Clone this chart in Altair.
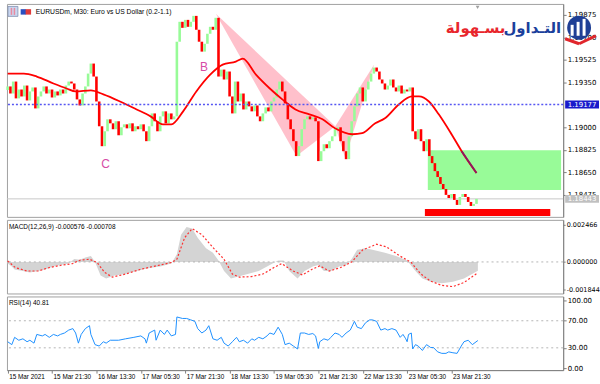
import altair as alt
import pandas as pd

# ---------------- data ----------------
# M30 candles, closes read at every second bar (bar index 0..338)
candle_bar = list(range(0, 340, 2))
first_open = 1.19290
close = [
    1.19318, 1.19263, 1.19356, 1.19225, 1.19294, 1.19240, 1.19325, 1.19209, 1.19279, 1.19310,
    1.19147, 1.19240, 1.19279, 1.19318, 1.19263, 1.19294, 1.19232, 1.19279, 1.19248, 1.19294,
    1.19263, 1.19325, 1.19356, 1.19341, 1.19294, 1.19217, 1.19170, 1.19263, 1.19318, 1.19418,
    1.19496, 1.19395, 1.19201, 1.19008, 1.18853, 1.18969, 1.19062, 1.19031, 1.18985, 1.19047,
    1.18938, 1.19000, 1.19023, 1.18992, 1.19031, 1.18969, 1.19008, 1.18985, 1.19023, 1.18969,
    1.18892, 1.19008, 1.19108, 1.19047, 1.18969, 1.19085, 1.19124, 1.19031, 1.19108, 1.19062,
    1.19085, 1.19666, 1.19821, 1.19774, 1.19836, 1.19782, 1.19821, 1.19867, 1.19759, 1.19666,
    1.19589, 1.19650, 1.19728, 1.19782, 1.19759, 1.19852, 1.19395, 1.19449, 1.19372, 1.19434,
    1.19240, 1.19108, 1.19356, 1.19201, 1.19263, 1.19139, 1.19201, 1.19163, 1.19124, 1.19170,
    1.19085, 1.19047, 1.19108, 1.19155, 1.19124, 1.19201, 1.19232, 1.19294, 1.19356, 1.19279,
    1.19186, 1.19062, 1.18985, 1.18892, 1.18776, 1.18853, 1.18985, 1.19062, 1.19085, 1.19062,
    1.19077, 1.19047, 1.18737, 1.18814, 1.18868, 1.18837, 1.18892, 1.18930, 1.18985, 1.19000,
    1.18892, 1.18814, 1.18752, 1.18930, 1.19047, 1.19163, 1.19263, 1.19310, 1.19201, 1.19294,
    1.19356, 1.19418, 1.19465, 1.19434, 1.19372, 1.19341, 1.19294, 1.19325, 1.19372, 1.19310,
    1.19279, 1.19325, 1.19263, 1.19294, 1.19279, 1.19310, 1.18969, 1.18907, 1.18985, 1.18892,
    1.18814, 1.18907, 1.18776, 1.18721, 1.18659, 1.18613, 1.18559, 1.18520, 1.18474, 1.18450,
    1.18481, 1.18435, 1.18396, 1.18458, 1.18481, 1.18458, 1.18419, 1.18388, 1.18404, 1.18443,
]

ma_bar = [0, 11.7, 21, 33, 42.5, 49, 60, 69, 81, 93, 103, 112, 118, 126.5, 136, 146, 155,
          164.5, 169.5, 179, 189, 198, 207.5, 217.5, 227, 236, 248.5, 255.6, 265, 272, 282,
          291.5, 296.5, 303.7, 310.8, 320, 327.3, 338]
ma_value = [1.19418, 1.19418, 1.19395, 1.19341, 1.19302, 1.19279, 1.19287, 1.19256, 1.19201,
            1.19139, 1.19085, 1.19023, 1.19023, 1.19124, 1.19279, 1.19410, 1.19488, 1.19511,
            1.19534, 1.19410, 1.19302, 1.19217, 1.19139, 1.19101, 1.19062, 1.18992, 1.18946,
            1.18954, 1.19031, 1.19070, 1.19178, 1.19240, 1.19240, 1.19201, 1.19101, 1.18946,
            1.18814, 1.18644]

macd_bar = [0, 3, 5, 11, 16, 22, 27, 33, 38, 44, 48, 52, 56, 60, 63, 67, 71, 77, 85, 93,
            102, 110, 118, 122, 125, 129, 133, 137, 143, 148, 152, 156, 161, 165, 173, 181,
            189, 195, 199, 203, 209, 214, 220, 224, 228, 233, 239, 244, 248, 252, 258, 263,
            272, 280, 288, 294, 299, 305, 313, 321, 329, 339]
macd_value = [-0.0001, -0.0003, -0.0005, -0.0006, -0.0007, -0.0006, -0.0005, -0.0003, -0.0002,
              -0.0001, 0.0002, 0.00015, 0.0003, 0.0004, 0.0, -0.0009, -0.0011, -0.0009, -0.0008,
              -0.0006, -0.0004, -0.0003, -0.0001, 0.0005, 0.0018, 0.0023, 0.0022, 0.0016, 0.0009,
              0.0006, 0.0001, -0.0006, -0.0011, -0.0010, -0.0008, -0.0006, -0.0002, 0.0001,
              0.0001, -0.0006, -0.0011, -0.0006, -0.0003, -0.0002, -0.0006, -0.0006, -0.0003,
              -0.0002, 0.0002, 0.0008, 0.0009, 0.0008, 0.0006, 0.0004, 0.0001, -0.0006, -0.0011,
              -0.0013, -0.0014, -0.0013, -0.0011, -0.000576]
signal_bar = [0, 5.5, 14, 22, 30, 38.5, 46.7, 52, 59, 64.5, 70, 75.5, 85, 96, 107, 118, 122,
              127.6, 133, 140, 148, 156, 162, 167, 175.6, 184, 192, 197.5, 205.8, 212.6, 219.5,
              225, 231.8, 240, 248, 256, 266, 273, 282.6, 291, 297.6, 304.5, 312.7, 321, 329, 339]
signal_value = [0.00007, -0.00037, -0.0006, -0.0006, -0.00037, -0.00022, -0.00011, 0.00011,
                0.00018, -0.00004, -0.0007, -0.001, -0.0008, -0.00048, -0.00026, -0.00004,
                0.00018, 0.0016, 0.0022, 0.0018, 0.00095, 0.00018, -0.0008, -0.001, -0.00097,
                -0.0008, -0.00037, -0.00011, -0.0006, -0.00086, -0.00048, -0.00026, -0.0006,
                -0.00037, 0.0, 0.0008, 0.00117, 0.001, 0.0004, -0.00004, -0.00077, -0.00125,
                -0.00154, -0.00163, -0.00136, -0.000708]

rsi_bar = [0, 3, 5, 8, 11, 14, 16, 19, 21, 25, 27, 30, 33, 36, 38, 41, 44, 47, 49, 51, 53, 56,
           59, 60, 63, 66, 69, 71, 74, 80, 85, 91, 96, 99, 100, 102, 106, 107, 110, 113, 115,
           118, 121, 122, 126, 129, 132, 135, 137, 140, 143, 145, 148, 151, 154, 156, 159, 162,
           165, 167, 170, 173, 176, 178, 181, 184, 187, 189, 192, 195, 198, 200, 203, 206, 209,
           211, 214, 217, 220, 222, 224, 225, 228, 231, 233, 236, 239, 241, 244, 247, 250, 252,
           255, 258, 261, 263, 266, 269, 272, 274, 277, 280, 283, 285, 287, 288, 289, 291, 292,
           294, 296, 299, 302, 305, 307, 310, 313, 316, 318, 321, 324, 327, 329, 332, 335, 339]
rsi_value = [39.0, 34.7, 45.5, 41.2, 43.3, 39.0, 41.2, 36.9, 49.8, 47.6, 49.8, 45.5, 49.8, 47.6,
             49.8, 51.9, 56.2, 58.4, 51.9, 36.9, 49.8, 58.4, 62.7, 49.8, 34.7, 32.6, 39.0, 36.9,
             41.2, 41.2, 43.3, 45.5, 47.6, 43.3, 36.9, 51.9, 56.2, 41.2, 56.2, 49.8, 56.2, 47.6,
             49.8, 75.6, 73.4, 73.4, 71.3, 69.1, 58.4, 51.9, 56.2, 62.7, 43.3, 41.2, 45.5, 36.9,
             32.6, 39.0, 45.5, 39.0, 41.2, 36.9, 43.3, 41.2, 45.5, 43.3, 47.6, 51.9, 49.8, 60.5,
             49.8, 34.7, 36.9, 32.6, 28.3, 51.9, 51.9, 49.8, 51.1, 47.6, 29.1, 39.0, 43.3, 41.2,
             45.5, 51.9, 49.8, 45.5, 51.9, 56.2, 69.1, 60.5, 58.4, 67.0, 71.3, 71.3, 69.1, 56.2,
             58.4, 56.2, 58.4, 56.2, 45.5, 49.8, 43.3, 39.0, 49.8, 51.9, 28.3, 34.7, 32.6, 26.1,
             34.7, 30.4, 30.4, 24.0, 21.8, 21.8, 24.0, 22.7, 21.8, 32.6, 39.0, 41.2, 34.7, 40.81]

time_tick_bar = [0, 32, 64, 96, 128, 160, 192, 224, 256, 288, 320]
time_tick_label = ["15 Mar 2021", "15 Mar 21:30", "16 Mar 13:30", "17 Mar 05:30",
                   "17 Mar 21:30", "18 Mar 13:30", "19 Mar 05:30", "21 Mar 21:30",
                   "22 Mar 13:30", "23 Mar 05:30", "23 Mar 21:30"]

price_tick = [1.19875, 1.19700, 1.19525, 1.19350, 1.19000, 1.18825, 1.18650, 1.18475]
macd_tick = [0.002466, 0.0, -0.001844]
rsi_tick = [100, 70, 30, 0]
rsi_levels = [70, 30]

level_price = 1.19177
bid_price = 1.18443

green_box = [302.9, 399.0, 1.18512, 1.18822]
red_box = [300.8, 391.2, 1.18310, 1.18365]
tri_xab = [(150.1, 1.19883), (208.2, 1.18776), (236.2, 1.19008)]
tri_bcd = [(236.2, 1.19008), (243.4, 1.18760), (264.2, 1.19488)]

point_label = ["B", "C"]
point_label_bar = [141.5, 70.5]
point_label_price = [1.19472, 1.18714]

title_main = "EURUSDm, M30:  Euro vs US Dollar (0.2-1.1)"
title_macd = "MACD(12,26,9) -0.000576 -0.000708"
title_rsi = "RSI(14) 40.81"
logo_blue = "التـداول"
logo_red = "بسـهولة"

# ---------------- frames ----------------
opens = [first_open] + close[:-1]
candles = pd.DataFrame({"x": candle_bar, "o": opens, "c": close})


def candle_kind(r):
    kind = "up" if r.c >= r.o else "down"
    inside = (green_box[0] <= r.x <= green_box[1] and max(r.o, r.c) >= green_box[2]
              and min(r.o, r.c) <= green_box[3])
    return kind + ("_g" if inside else "")


candles["d"] = candles.apply(candle_kind, axis=1)

ma = pd.DataFrame({"x": ma_bar, "y": ma_value})
ma_in_green = ma[ma["y"] <= green_box[3]]


def tri_rows(v, name):
    (xa, ya), (xb, yb), (xc, yc) = sorted(v)
    yl = ya + (yc - ya) * (xb - xa) / (xc - xa)
    return [dict(t=name, x=xa, y=ya, y2=ya), dict(t=name, x=xb, y=yb, y2=yl),
            dict(t=name, x=xc, y=yc, y2=yc)]


tris = pd.DataFrame(tri_rows(tri_xab, "t1") + tri_rows(tri_bcd, "t2"))
boxes = pd.DataFrame([
    dict(x=green_box[0], x2=green_box[1], y=green_box[2], y2=green_box[3], k="g"),
    dict(x=red_box[0], x2=red_box[1], y=red_box[2], y2=red_box[3], k="r"),
])
labels_df = pd.DataFrame({"x": point_label_bar, "y": point_label_price, "t": point_label})
macd_df = pd.DataFrame({"x": macd_bar, "v": macd_value, "z": [0.0] * len(macd_bar)})
signal_df = pd.DataFrame({"x": signal_bar, "v": signal_value})
rsi_df = pd.DataFrame({"x": rsi_bar, "v": rsi_value})

# ---------------- scales / axes ----------------
W = 559
XS = alt.Scale(domain=[-0.5, 400.5], nice=False, zero=False)
PS = alt.Scale(domain=[1.18303, 1.19960], nice=False, zero=False)
MS = alt.Scale(domain=[-0.002083, 0.002779], nice=False, zero=False)
RS = alt.Scale(domain=[-2.94, 105.9], nice=False, zero=False)

ax_common = dict(title=None, grid=False, labelColor="#000000", domainColor="#808080",
                 tickColor="#808080", labelOverlap=False, labelFlush=False)
price_axis = alt.Axis(orient="right", values=price_tick, format=".5f", tickSize=3,
                      labelPadding=1, labelFont="DejaVu Sans", labelFontSize=7, **ax_common)
macd_axis = alt.Axis(orient="right", values=macd_tick, tickSize=2, labelPadding=1,
                     labelExpr="replace(format(datum.value, '.6f'), '\u2212', '-')",
                     labelFont="DejaVu Sans", labelFontSize=6.5, **ax_common)
rsi_axis = alt.Axis(orient="right", values=rsi_tick, format=".2f", tickSize=3, labelPadding=1,
                    labelFont="DejaVu Sans", labelFontSize=7, **ax_common)
time_expr = "[" + ",".join("'%s'" % s for s in time_tick_label) + "][round(datum.value / 32)]"
time_axis = alt.Axis(orient="bottom", values=time_tick_bar, labelExpr=time_expr, tickSize=3,
                     labelAlign="left", labelPadding=0, labelOffset=1,
                     labelFont="Liberation Sans", labelFontSize=6.4, **ax_common)


def X(f="x", axis=None):
    return alt.X(f"{f}:Q", scale=XS, axis=axis)


def PY(f="y"):
    return alt.Y(f"{f}:Q", scale=PS, axis=price_axis)


def MY(f="v"):
    return alt.Y(f"{f}:Q", scale=MS, axis=macd_axis)


def RY(f="v"):
    return alt.Y(f"{f}:Q", scale=RS, axis=rsi_axis)


_deco_id = [0]


def one_row():
    _deco_id[0] += 1
    return pd.DataFrame({"k": [_deco_id[0]]})


def deco_rule(x1, y1, x2, y2, color, width):
    return alt.Chart(one_row()).mark_rule(color=color, strokeWidth=width).encode(
        x=alt.value(x1), y=alt.value(y1), x2=alt.value(x2), y2=alt.value(y2))


def deco_text(x, y, text, **kw):
    return alt.Chart(one_row()).mark_text(**kw).encode(x=alt.value(x), y=alt.value(y),
                                                       text=alt.value(text))


def deco_point(x, y, **kw):
    return alt.Chart(one_row()).mark_point(filled=True, opacity=1, **kw).encode(
        x=alt.value(x), y=alt.value(y))


box_path = "M-1,-0.235L1,-0.235L1,0.235L-1,0.235Z"

# ---------------- main panel ----------------
zones = alt.Chart(boxes).mark_rect().encode(
    x=X(), x2="x2:Q", y=PY(), y2="y2:Q",
    color=alt.Color("k:N", scale=alt.Scale(domain=["g", "r"], range=["#98fb98", "#ff0000"]),
                    legend=None))
tri_layer = alt.Chart(tris).mark_area(color="#ffc0cb", orient="vertical", opacity=1).encode(
    x=X(), y=PY("y"), y2="y2:Q", detail="t:N")
bid_line = alt.Chart(pd.DataFrame({"y": [bid_price]})).mark_rule(
    color="#c8c8c8", strokeWidth=1).encode(y=PY())
candle_layer = alt.Chart(candles).mark_rule(strokeWidth=2.6).encode(
    x=X(), y=PY("o"), y2="c:Q",
    color=alt.Color("d:N", scale=alt.Scale(domain=["up", "down", "up_g", "down_g"],
                                           range=["#8ee58e", "#f27d7d", "#6f9f74", "#9a6f80"]),
                    legend=None))
ma_line = alt.Chart(ma).mark_line(color="#ff0000", strokeWidth=1.8, interpolate="monotone").encode(
    x=X(), y=PY())
ma_purple = alt.Chart(ma_in_green).mark_line(color="#8b1a62", strokeWidth=1.8,
                                              interpolate="monotone").encode(x=X(), y=PY())
level_line = alt.Chart(pd.DataFrame({"y": [level_price]})).mark_rule(
    color="#5656f2", strokeDash=[2, 2], strokeWidth=1.4).encode(y=PY())
letters = alt.Chart(labels_df).mark_text(color="#d64ba6", fontSize=12, font="Liberation Sans").encode(
    x=X(), y=PY(), text="t:N")
level_box = alt.Chart(pd.DataFrame({"y": [level_price], "t": ["1.19177"]})).mark_point(
    shape=box_path, size=1156, filled=True, opacity=1, color="#1a1acb").encode(
    x=alt.value(578), y=PY())
level_txt = alt.Chart(pd.DataFrame({"y": [level_price], "t": ["1.19177"]})).mark_text(
    color="white", fontSize=7, font="DejaVu Sans").encode(x=alt.value(578), y=PY(), text="t:N")
bid_box = alt.Chart(pd.DataFrame({"y": [bid_price], "t": ["1.18443"]})).mark_point(
    shape=box_path, size=1156, filled=True, opacity=1, color="#c0c0c0").encode(
    x=alt.value(578), y=PY())
bid_txt = alt.Chart(pd.DataFrame({"y": [bid_price], "t": ["1.18443"]})).mark_text(
    color="white", fontSize=7, font="DejaVu Sans").encode(x=alt.value(578), y=PY(), text="t:N")

title_txt = deco_text(29, 8, title_main, align="left", baseline="middle", font="Liberation Sans",
                      fontSize=6.8, color="#000000")
icon1 = deco_point(6, 7.5, shape="square", size=100, color="#c9d6ef", stroke="#7f8fb0",
                   strokeWidth=0.8)
icon1b = deco_rule(4.5, 4, 4.5, 11, "#e88aa0", 1.5)
icon1c = deco_rule(7.5, 4, 7.5, 11, "#e88aa0", 1.5)
icon2a = deco_point(16.5, 8, shape="square", size=30, color="#2a4fc0")
icon2b = deco_point(21.5, 8, shape="square", size=30, color="#e03a3a")
shift_mark = deco_point(473, 3.5, shape="triangle-down", size=14, color="#a0a0a0")

logo_circle = deco_point(575, 24, shape="circle", size=576, color="#1f3f95")
logo_bars = [deco_rule(568, 21, 568, 32, "#ffffff", 3), deco_rule(574, 18, 574, 32, "#ffffff", 3),
             deco_rule(580, 15, 580, 32, "#ffffff", 3)]
logo_red_mark = [deco_rule(561, 35, 575, 40, "#e0262c", 3),
                 deco_rule(575, 40, 592, 32, "#e0262c", 3)]
logo_b = deco_text(557, 29, logo_blue, align="right", baseline="alphabetic", font="DejaVu Sans",
                   fontSize=15, fontWeight="bold", color="#1b3f9c")
logo_r = deco_text(501, 29, logo_red, align="right", baseline="alphabetic", font="DejaVu Sans",
                   fontSize=15, fontWeight="bold", color="#e8262c")

main = alt.layer(
    zones, tri_layer, bid_line, candle_layer, ma_line, ma_purple, level_line, letters,
    level_box, level_txt, bid_box, bid_txt, logo_circle, *logo_bars, *logo_red_mark,
    title_txt, icon1, icon1b, icon1c, icon2a, icon2b, shift_mark, logo_r, logo_b,
).properties(width=W, height=214)

# ---------------- MACD panel ----------------
hist = alt.Chart(macd_df).mark_area(color="#d4d4d4", orient="vertical").encode(
    x=X(), y=MY(), y2="z:Q")
zero_line = alt.Chart(pd.DataFrame({"v": [0.0]})).mark_rule(
    color="#b4b4b4", strokeDash=[2, 3]).encode(y=MY())
signal = alt.Chart(signal_df).mark_line(color="#ff3030", strokeDash=[2, 2], strokeWidth=1.2).encode(
    x=X(), y=MY())
macd_title = deco_text(2, 7, title_macd, align="left", baseline="middle", font="Liberation Sans",
                       fontSize=6.5, color="#000000")
macd_panel = alt.layer(hist, zero_line, signal, macd_title).properties(width=W, height=74)

# ---------------- RSI panel ----------------
levels = alt.Chart(pd.DataFrame({"v": rsi_levels})).mark_rule(
    color="#b4b4b4", strokeDash=[2, 3]).encode(y=RY())
rsi_line = alt.Chart(rsi_df).mark_line(color="#1e90ff", strokeWidth=1).encode(
    x=X(axis=time_axis), y=RY())
rsi_title = deco_text(2, 7, title_rsi, align="left", baseline="middle", font="Liberation Sans",
                      fontSize=6.5, color="#000000")
rsi_panel = alt.layer(levels, rsi_line, rsi_title).properties(width=W, height=74)

chart = alt.vconcat(main, macd_panel, rsi_panel, spacing=1).properties(
    padding={"left": 3, "top": 2, "right": 0, "bottom": 0}, background="white"
).configure_view(stroke="#a0a0a0", strokeWidth=1)

chart.save("out.html", embed_options={"renderer": "svg", "actions": False})
